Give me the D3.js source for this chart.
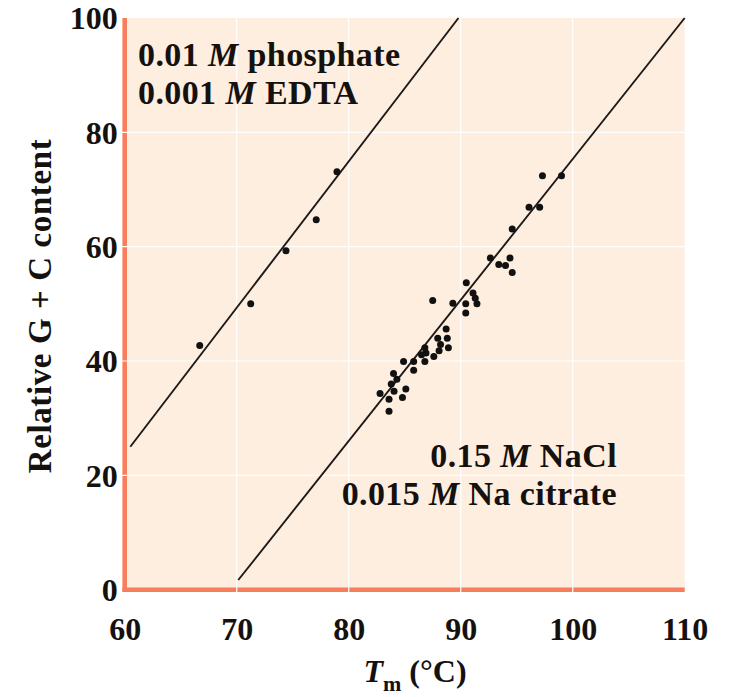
<!DOCTYPE html>
<html>
<head>
<meta charset="utf-8">
<script src="https://cdn.jsdelivr.net/npm/d3@7"></script>
<style>
  body { margin: 0; background: #fff; }
  text { font-family: "Liberation Serif", "Times New Roman", serif; font-weight: bold; fill: #15110e; }
</style>
</head>
<body>
<div class="graph"></div>
<script>
// low salt (0.01 M phosphate) points: [Tm, G+C]
var lowSalt = [
  [66.7, 42.7], [71.25, 50.0], [74.4, 59.3], [77.1, 64.7], [78.95, 73.1]
];
// standard saline citrate points
var saline = [
  [82.8, 34.3], [83.6, 33.3], [83.6, 31.2], [83.8, 36.0], [84.05, 34.7],
  [84.0, 37.8], [84.3, 36.8], [84.8, 33.6], [85.1, 35.1], [84.9, 39.9],
  [85.8, 39.9], [85.8, 38.4], [86.5, 41.1], [86.8, 39.9], [86.9, 41.4],
  [86.8, 42.3], [87.6, 40.8], [88.07, 41.8], [88.2, 42.9], [87.95, 44.0],
  [88.8, 44.0], [88.9, 42.3], [88.7, 45.6], [87.5, 50.6], [89.3, 50.1],
  [90.45, 50.0], [90.45, 48.4], [91.45, 50.0], [91.3, 51.0], [91.1, 51.9],
  [90.5, 53.7], [92.65, 58.0], [93.4, 56.9], [94.0, 56.7], [94.4, 58.0],
  [94.6, 55.5], [94.6, 63.1], [96.1, 66.9], [97.05, 66.9], [97.3, 72.4],
  [99.0, 72.4]
];
// fitted lines, end points
var lowSaltLine = [[60.5, 25.0], [89.8, 100]];
var salineLine = [[70.14, 1.7], [110, 100]];

var xTicks = [60, 70, 80, 90, 100, 110];
var yTicks = [0, 20, 40, 60, 80, 100];

var width = 730, height = 697;
var x = d3.scaleLinear().domain([60, 110]).range([124.7, 684.7]);
var y = d3.scaleLinear().domain([0, 100]).range([589.7, 18]);

var svg = d3.select('.graph').append('svg')
    .attr('width', width)
    .attr('height', height);

// plot background
svg.append('rect')
    .attr('x', x(60)).attr('y', y(100))
    .attr('width', x(110) - x(60)).attr('height', y(0) - y(100))
    .attr('fill', '#fdeedf');

// axis lines (orange)
svg.append('line')
    .attr('x1', x(60)).attr('x2', x(60))
    .attr('y1', y(100)).attr('y2', y(0) + 2.3)
    .attr('stroke', '#f77e5c').attr('stroke-width', 4.6);
svg.append('line')
    .attr('x1', x(60) - 2.3).attr('x2', x(110))
    .attr('y1', y(0)).attr('y2', y(0))
    .attr('stroke', '#f77e5c').attr('stroke-width', 4.6);

// white grid, cutting across the axis bars
svg.selectAll('.vgrid')
    .data(xTicks.slice(1, -1))
    .enter().append('line')
      .attr('class', 'vgrid')
      .attr('x1', function (d) { return x(d); })
      .attr('x2', function (d) { return x(d); })
      .attr('y1', y(100)).attr('y2', y(0) + 2.5)
      .attr('stroke', '#fff').attr('stroke-width', 1.2);
svg.selectAll('.hgrid')
    .data(yTicks.slice(1, -1))
    .enter().append('line')
      .attr('class', 'hgrid')
      .attr('x1', x(60) - 2.5).attr('x2', x(110))
      .attr('y1', function (d) { return y(d); })
      .attr('y2', function (d) { return y(d); })
      .attr('stroke', '#fff').attr('stroke-width', 1.2);

// tick labels via axes
var xAxis = svg.append('g')
    .attr('transform', 'translate(0,' + y(0) + ')')
    .call(d3.axisBottom(x).tickValues(xTicks).tickSize(0).tickFormat(d3.format('d')));
xAxis.select('.domain').remove();
xAxis.selectAll('text')
    .attr('y', 50).attr('dy', 0)
    .style('font-size', '32px');

var yAxis = svg.append('g')
    .attr('transform', 'translate(' + x(60) + ',0)')
    .call(d3.axisLeft(y).tickValues(yTicks).tickSize(0).tickFormat(d3.format('d')));
yAxis.select('.domain').remove();
yAxis.selectAll('text')
    .attr('x', -7).attr('dy', '0.34em')
    .style('font-size', '32px');

// fitted lines
var line = d3.line()
    .x(function (d) { return x(d[0]); })
    .y(function (d) { return y(d[1]); });
[lowSaltLine, salineLine].forEach(function (l) {
  svg.append('path')
      .attr('d', line(l))
      .attr('fill', 'none')
      .attr('stroke', '#1c1a18')
      .attr('stroke-width', 1.9);
});

// data points
svg.selectAll('.pt')
    .data(lowSalt.concat(saline))
    .enter().append('circle')
      .attr('class', 'pt')
      .attr('cx', function (d) { return x(d[0]); })
      .attr('cy', function (d) { return y(d[1]); })
      .attr('r', 3.5)
      .attr('fill', '#111');

// annotation text
function label(xp, yp, num, rest, anchor) {
  var t = svg.append('text')
      .attr('x', xp).attr('y', yp)
      .attr('text-anchor', anchor)
      .style('font-size', '34px')
      .style('letter-spacing', '0.4px');
  t.append('tspan').text(num + ' ');
  t.append('tspan').style('font-style', 'italic').text('M');
  t.append('tspan').text(' ' + rest);
}
label(138, 66, '0.01', 'phosphate', 'start');
label(138, 104, '0.001', 'EDTA', 'start');
label(617, 467, '0.15', 'NaCl', 'end');
label(617, 505, '0.015', 'Na citrate', 'end');

// axis titles
var xt = svg.append('text')
    .attr('x', 415).attr('y', 682)
    .attr('text-anchor', 'middle')
    .style('font-size', '32px');
xt.append('tspan').style('font-style', 'italic').text('T');
xt.append('tspan').attr('dy', 9).style('font-size', '22px').text('m');
xt.append('tspan').attr('dy', -9).text(' (°C)');

svg.append('text')
    .attr('transform', 'translate(51,306) rotate(-90)')
    .attr('text-anchor', 'middle')
    .style('font-size', '33px')
    .style('letter-spacing', '0.6px')
    .text('Relative G + C content');
</script>
</body>
</html>
